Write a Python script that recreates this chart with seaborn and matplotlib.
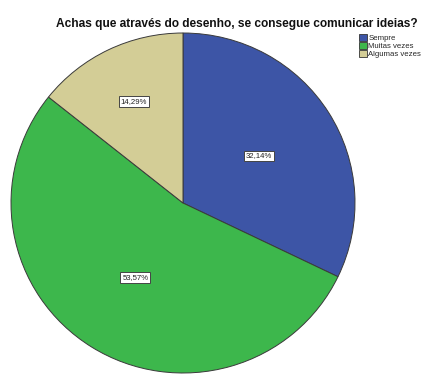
import matplotlib
matplotlib.use("Agg")
import matplotlib.pyplot as plt
import seaborn as sns
import numpy as np

sns.set_theme(style="white")
plt.rcParams["font.family"] = ["Liberation Sans", "DejaVu Sans"]

# Responses and their shares (%)
categories = ["Sempre", "Muitas vezes", "Algumas vezes"]
shares = [32.14, 53.57, 14.29]
colors = ["#3d55a6", "#3db74c", "#d3cd96"]
title = "Achas que através do desenho, se consegue comunicar ideias?"

W, H = 425, 376
fig = plt.figure(figsize=(W / 100, H / 100), dpi=100)

# pie centred at (183, 203) px, radii ~172 x 170 px
cx, cy, rx, ry = 183, 203, 172, 170
ax = fig.add_axes([(cx - rx) / W, (H - cy - ry) / H, 2 * rx / W, 2 * ry / H])

wedges, texts, autotexts = ax.pie(
    shares,
    colors=colors,
    startangle=90,
    counterclock=False,
    radius=1.0,
    autopct=lambda p: f"{p:.2f}%".replace(".", ","),
    pctdistance=0.52,
    wedgeprops=dict(edgecolor="#3a3a3a", linewidth=0.7),
    textprops=dict(fontsize=5.6, color="#222222"),
)
for t in autotexts:
    t.set_bbox(dict(boxstyle="square,pad=0.25", facecolor="white",
                    edgecolor="#444444", linewidth=0.7))
# small slice label sits further out
x, y = autotexts[2].get_position()
autotexts[2].set_position((x * 0.66 / 0.52, y * 0.66 / 0.52))

ax.set_aspect("auto")
ax.set_xlim(-1, 1)
ax.set_ylim(-1, 1)
ax.axis("off")

fig.text(237 / W, 1 - 23.5 / H, title, ha="center", va="center",
         fontsize=8.6, fontweight="bold", color="#111111")

fig.legend(wedges, categories, loc="upper left",
           bbox_to_anchor=(358 / W, 1 - 33 / H), frameon=False,
           fontsize=5.6, handlelength=1.0, handleheight=1.0,
           labelspacing=0.0, handletextpad=0.25, borderpad=0.1,
           borderaxespad=0)
for h in fig.legends[0].legend_handles:
    h.set_edgecolor("#333333")
    h.set_linewidth(0.6)

fig.savefig("out.png", dpi=100)
